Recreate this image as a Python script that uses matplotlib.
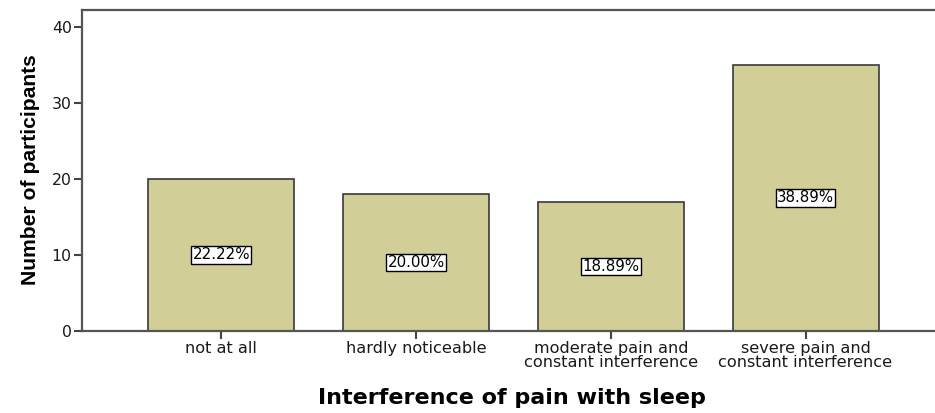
import matplotlib
matplotlib.use("Agg")
import matplotlib.pyplot as plt

categories = ["not at all", "hardly noticeable", "moderate pain and\nconstant interference",
              "severe pain and\nconstant interference"]
counts = [20, 18, 17, 35]
percent_labels = ["22.22%", "20.00%", "18.89%", "38.89%"]
yticks = [0, 10, 20, 30, 40]

fig = plt.figure(figsize=(9.35, 4.13), dpi=100)
ax = fig.add_axes([82/935, 1-331/413, 1-82/935, 321/413])

x = list(range(len(categories)))
ax.bar(x, counts, width=0.75, color="#d2ce98", edgecolor="#3a3a3a", linewidth=1.2, zorder=2)
for xi, c, lab in zip(x, counts, percent_labels):
    ax.text(xi, c/2, lab, ha="center", va="center", fontsize=10.8, family="DejaVu Sans",
            bbox=dict(boxstyle="square,pad=0.08", fc="white", ec="black", lw=1.0), zorder=3)

ax.set_xlim(-0.716, 3.665)
ax.set_ylim(0, 42.2)
ax.set_yticks(yticks)
ax.set_xticks(x)
ax.set_xticklabels(categories, fontsize=11.6, family="DejaVu Sans", color="#1a1a1a", linespacing=0.85)
ax.set_yticklabels([str(v) for v in yticks], fontsize=11.3, family="DejaVu Sans", color="#1a1a1a")
ax.tick_params(axis="both", direction="out", length=6, width=1.5, color="#444444", pad=1.5)
for s in ["left", "bottom", "top"]:
    ax.spines[s].set_color("#555555")
    ax.spines[s].set_linewidth(1.6)
ax.spines["right"].set_visible(False)

fig.text(31/935, 1-170/413, "Number of participants", rotation=90, ha="center", va="center",
         fontsize=15.2, fontweight="bold", family="Liberation Sans")
fig.text(512/935, 1-398/413, "Interference of pain with sleep", ha="center", va="center",
         fontsize=16, fontweight="bold", family="DejaVu Sans")

fig.savefig("out.png", dpi=100)
